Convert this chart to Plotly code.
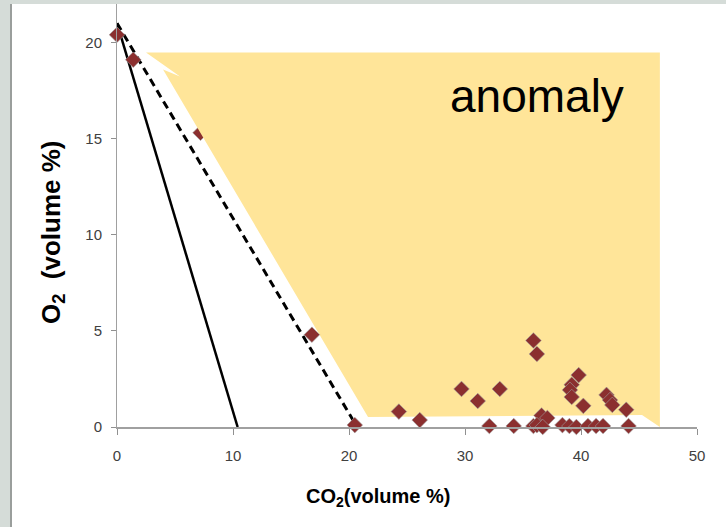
import plotly.graph_objects as go

# Measured gas composition (volume %)
co2 = [0.0, 1.4, 16.8, 20.5, 24.3, 26.1, 29.7, 31.1, 33.0, 32.1, 34.2,
       35.9, 36.2, 35.9, 39.8, 39.2, 39.05, 39.2, 40.2, 42.2, 42.5, 42.7,
       43.9, 44.1, 36.6, 37.1, 36.2, 36.7, 38.4, 39.0, 39.6, 40.6, 41.3,
       41.9]
o2 = [20.4, 19.1, 4.8, 0.1, 0.8, 0.36, 1.98, 1.35, 1.98, 0.05, 0.05,
      4.5, 3.8, 0.05, 2.7, 2.2, 1.93, 1.56, 1.1, 1.67, 1.4, 1.15,
      0.9, 0.05, 0.6, 0.47, 0.1, 0.0, 0.1, 0.05, 0.0, 0.05, 0.05,
      0.05]

# Sample partly hidden behind the anomaly region
hidden_co2 = [7.2]
hidden_o2 = [15.3]

# Reference lines from atmospheric oxygen
solid_co2 = [0.0, 10.4]
solid_o2 = [21.0, 0.0]
dashed_co2 = [0.0, 20.7]
dashed_o2 = [21.0, 0.0]

# Outline of the anomaly region
region_co2 = [2.5, 46.8, 46.8, 45.26, 21.64, 3.97, 5.43, 2.5]
region_o2 = [19.48, 19.48, 0.0, 0.625, 0.52, 18.59, 18.23, 19.48]

x_ticks = [0, 10, 20, 30, 40, 50]
y_ticks = [0, 5, 10, 15, 20]

marker_color = "#8B2F2F"
tick_font = dict(family="Liberation Sans, Arial", size=15, color="#404040")
marker_style = dict(symbol="diamond", size=12, color=marker_color,
                    line=dict(color="rgba(160,160,160,0.6)", width=1))

fig = go.Figure()

fig.add_trace(go.Scatter(
    x=hidden_co2, y=hidden_o2, mode="markers", marker=marker_style,
    cliponaxis=False, hoverinfo="skip"))

fig.add_trace(go.Scatter(
    x=region_co2, y=region_o2, mode="lines", fill="toself",
    fillcolor="#FFE599", line=dict(width=0, color="#FFE599"),
    hoverinfo="skip"))

fig.add_trace(go.Scatter(
    x=solid_co2, y=solid_o2, mode="lines",
    line=dict(color="black", width=2.5), cliponaxis=False))

fig.add_trace(go.Scatter(
    x=dashed_co2, y=dashed_o2, mode="lines",
    line=dict(color="black", width=3, dash="8px,5px"), cliponaxis=False))

fig.add_trace(go.Scatter(
    x=co2, y=o2, mode="markers", marker=marker_style, cliponaxis=False))

fig.update_layout(
    width=726, height=527,
    margin=dict(l=117, r=29, t=4, b=100),
    paper_bgcolor="white", plot_bgcolor="white",
    showlegend=False,
    xaxis=dict(range=[0, 50], tickvals=x_ticks, ticks="outside", ticklen=6,
               tickcolor="#909090", showline=True, linecolor="#a0a0a0",
               linewidth=2, showgrid=False, zeroline=False,
               tickfont=tick_font, ticklabelstandoff=8),
    yaxis=dict(range=[0, 22], tickvals=y_ticks, ticks="outside", ticklen=5,
               tickcolor="#909090", showline=True, linecolor="#a0a0a0",
               linewidth=1, showgrid=False, zeroline=False,
               tickfont=tick_font, ticklabelstandoff=6),
    annotations=[
        dict(text="anomaly", x=36.2, y=17.2, xref="x", yref="y",
             xanchor="center", yanchor="middle", showarrow=False,
             font=dict(family="Liberation Sans, Arial", size=46, color="black")),
        dict(text="<b>O<sub>2</sub>&nbsp;&nbsp;(volume %)</b>", x=(52 - 117) / 580, y=(427 - 232) / 423,
             xref="paper", yref="paper", xanchor="center", yanchor="middle",
             showarrow=False, textangle=-90,
             font=dict(family="Liberation Sans, Arial", size=26, color="black")),
        dict(text="<b>CO<sub>2</sub>(volume %)</b>", x=(378 - 117) / 580, y=(427 - 497) / 423,
             xref="paper", yref="paper", xanchor="center", yanchor="middle",
             showarrow=False,
             font=dict(family="Liberation Sans, Arial", size=20, color="black")),
    ],
    shapes=[
        # slide frame bands along the top and left edges
        dict(type="rect", xref="paper", yref="paper", x0=-117 / 580, x1=(726 - 117) / 580,
             y0=1, y1=1 + 4 / 423, fillcolor="#D5DCD8", line=dict(width=0), layer="above"),
        dict(type="rect", xref="paper", yref="paper", x0=-117 / 580, x1=(10 - 117) / 580,
             y0=-100 / 423, y1=1 + 4 / 423, fillcolor="#D5DCD8", line=dict(width=0), layer="above"),
        dict(type="rect", xref="paper", yref="paper", x0=(10 - 117) / 580, x1=(12 - 117) / 580,
             y0=-100 / 423, y1=1, fillcolor="#9A9E9C", line=dict(width=0), layer="above"),
    ],
)

fig.write_html("out.html")
